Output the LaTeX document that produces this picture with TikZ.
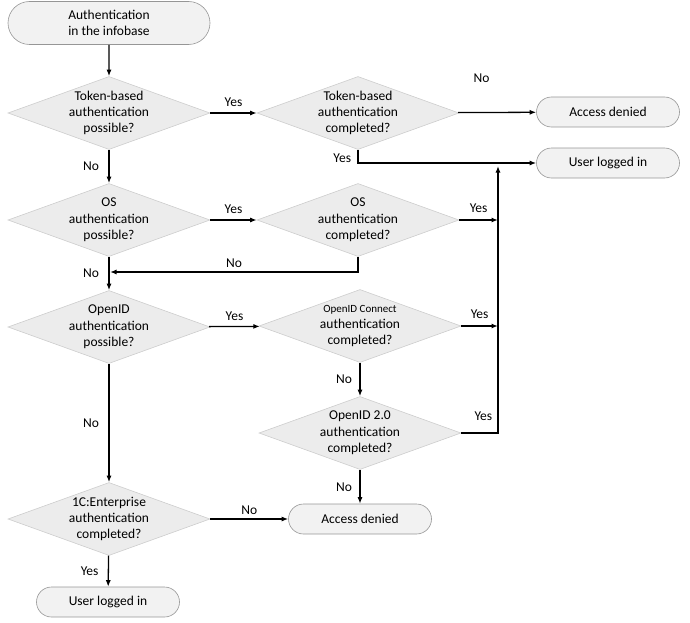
\documentclass[tikz,border=0pt]{standalone}
\usepackage{fontspec}
\setmainfont{Carlito}
\usetikzlibrary{arrows.meta,shapes.geometric,shapes.misc}
\definecolor{termfill}{RGB}{242,242,242}
\definecolor{termline}{RGB}{150,150,150}
\definecolor{decfill}{RGB}{236,236,236}
\definecolor{decline}{RGB}{205,205,205}
\begin{document}
\begin{tikzpicture}[line join=miter,>={Latex[length=6.5pt,width=5pt]},x=1pt,y=-1pt,
  font=\fontsize{13.5}{16.3}\selectfont,
  term/.style={rounded rectangle,draw=termline,fill=termfill,line width=0.6pt,align=center,minimum width=143,minimum height=30,inner sep=0pt},
  dec/.style={diamond,draw=decline,fill=decfill,line width=0.6pt,aspect=2.77,inner sep=-2pt,minimum width=202,minimum height=73,align=center},
  flow/.style={->,line width=1.3pt}]
\useasboundingbox (0,0) rectangle (690,623);
\node[term,minimum width=202,minimum height=43] (start) at (109,23) {Authentication\\in the infobase};
\node[dec] (tokpos) at (109,113) {Token-based\\authentication\\possible?};
\node[dec] (tokdone) at (358,113) {Token-based\\authentication\\completed?};
\node[term] (denied1) at (608,112) {Access denied};
\node[term] (logged1) at (608,163) {User logged in};
\node[dec] (ospos) at (109,220) {OS\\authentication\\possible?};
\node[dec] (osdone) at (358,220) {OS\\authentication\\completed?};
\node[dec] (oidpos) at (109,327) {OpenID\\authentication\\possible?};
\node[dec] (oidcdone) at (360,326) {{\fontsize{11}{13}\selectfont OpenID Connect}\\authentication\\completed?};
\node[dec] (oid2done) at (360,433) {OpenID 2.0\\authentication\\completed?};
\node[dec] (entdone) at (109,519) {1C:Enterprise\\authentication\\completed?};
\node[term] (denied2) at (360,519) {Access denied};
\node[term] (logged2) at (108,602) {User logged in};
\coordinate (bus) at (498,166);
\coordinate (osback) at (110,272);
\draw[flow] (start) -- (tokpos);
\draw[flow] (tokpos) -- node[above=2pt]{Yes} (tokdone);
\draw[flow] (tokdone) -- node[pos=0.3,above=26pt]{No} (denied1);
\draw[flow] (tokdone.south) |- node[pos=0.3,left=3pt]{Yes} (logged1.west);
\draw[flow] (tokpos) -- node[left=6pt]{No} (ospos);
\draw[flow] (ospos) -- node[above=2pt]{Yes} (osdone);
\draw[flow] (osdone.east) -- node[above=3pt]{Yes} (osdone.east -| bus);
\draw[flow] (osdone.south) |- node[pos=0.75,above]{No} (osback);
\draw[flow] (ospos) -- node[left=6pt]{No} (oidpos);
\draw[flow] (oidpos) -- node[above=2pt]{Yes} (oidcdone);
\draw[flow] (oidcdone.east) -- node[above=3pt]{Yes} (oidcdone.east -| bus);
\draw[flow] (oidcdone) -- node[left=4pt]{No} (oid2done);
\draw[flow] (oid2done.east) -| node[pos=0.3,above=8pt]{Yes} (bus);
\draw[flow] (oidpos) -- node[left=6pt]{No} (entdone);
\draw[flow] (entdone) -- node[above]{No} (denied2);
\draw[flow] (oid2done) -- node[left=4pt]{No} (denied2);
\draw[flow] (entdone) -- node[left=6pt]{Yes} (logged2);
\end{tikzpicture}
\end{document}
